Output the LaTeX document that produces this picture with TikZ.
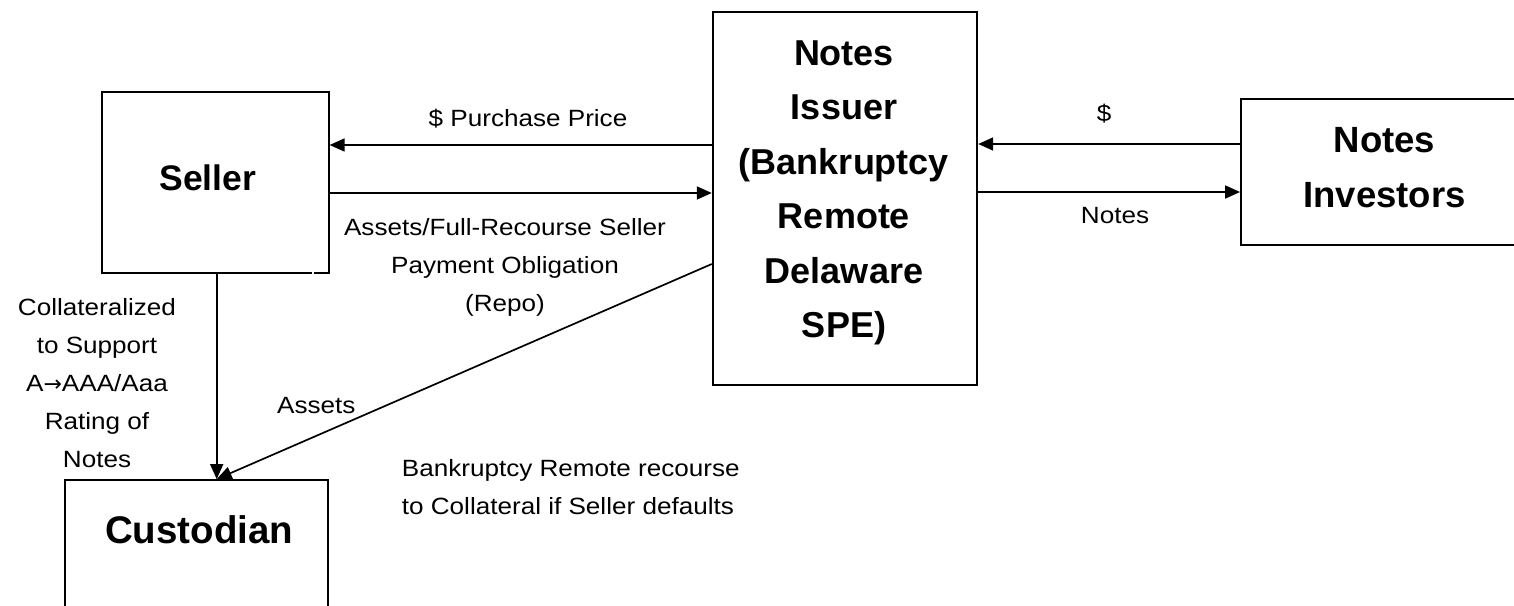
\documentclass[tikz,border=0pt]{standalone}
\usepackage{fontspec}
\setmainfont{Liberation Sans}[FakeStretch=1.11]
\newfontfamily\boldfam{Liberation Sans}
\newfontfamily\arrowfam{DejaVu Sans}
\usetikzlibrary{arrows.meta}
\begin{document}
\begin{tikzpicture}[x=1pt,y=-1pt,
  box/.style={draw, line width=1.8pt, inner sep=0pt},
  conn/.style={line width=1.7pt, -{Triangle[length=15pt,width=13pt]}},
  lbl/.style={inner sep=0pt, font=\fontsize{23.5}{38}\selectfont, align=center},
  bigfont/.style={inner sep=0pt, align=center, font=\boldfam\bfseries\fontsize{#1}{54.5}\selectfont},
]
\useasboundingbox (0,0) rectangle (1514,605);

% boxes
\node[box, minimum width=227pt, minimum height=180.4pt] (seller) at (215.2,182.5) {};
\node[box, minimum width=264.6pt, minimum height=372.7pt] (issuer) at (845,198.65) {};
\node[box, minimum width=287pt, minimum height=146pt] (investors) at (1384.5,172) {};
\node[box, minimum width=263.3pt, minimum height=180pt] (custodian) at (196.65,570) {};
\draw[white, line width=2.4pt] (311.7,272.7) -- (314,272.7);

% box texts (base anchor = baseline of the last line)
\node[bigfont=35.5, anchor=base] (sellertxt) at (207.7,190) {Seller};
\node[bigfont=36, anchor=base] (issuertxt) at (844,337.5) {Notes\\Issuer\\(Bankruptcy\\Remote\\Delaware\\SPE)};
\node[bigfont=36.5, anchor=base] (investorstxt) at (1384.5,207.3) {Notes\\Investors};
\node[bigfont=38.5, anchor=base] (custodiantxt) at (199.2,543.3) {Custodian};

% helper coordinates
\coordinate (h1) at (0,145);
\coordinate (h2) at (0,193);
\coordinate (h3) at (0,144);
\coordinate (h4) at (0,192);
\coordinate (h5) at (0,264);
\coordinate (v1) at (216.7,0);

% connectors
\draw[conn] (issuer.west |- h1) -- (seller.east |- h1);
\draw[conn] (seller.east |- h2) -- (issuer.west |- h2);
\draw[conn] (investors.west |- h3) -- (issuer.east |- h3);
\draw[conn] (issuer.east |- h4) -- (investors.west |- h4);
\draw[conn] (seller.south -| v1) -- (custodian.north -| v1);
\draw[conn] (issuer.west |- h5) -- (custodian.north -| v1);

% labels
\node[lbl, anchor=base] (pp) at (528,126) {\$ Purchase Price};
\node[lbl, anchor=base] (repo) at (505,311) {Assets/Full-Recourse Seller\\Payment Obligation\\(Repo)};
\node[lbl, anchor=base] (dollar) at (1104,121) {\$};
\node[lbl, anchor=base] (noteslbl) at (1115,223.3) {Notes};
\node[lbl, anchor=base] (coll) at (97,467) {Collateralized\\to Support\\A{\arrowfam\fontsize{22}{38}\selectfont →}AAA/Aaa\\Rating of\\Notes};
\node[lbl, anchor=base] (assets) at (316.3,413.3) {Assets};
\node[lbl, anchor=base west, align=left] (bkr) at (401.7,514.7) {Bankruptcy Remote recourse\\to Collateral if Seller defaults};
\end{tikzpicture}
\end{document}
